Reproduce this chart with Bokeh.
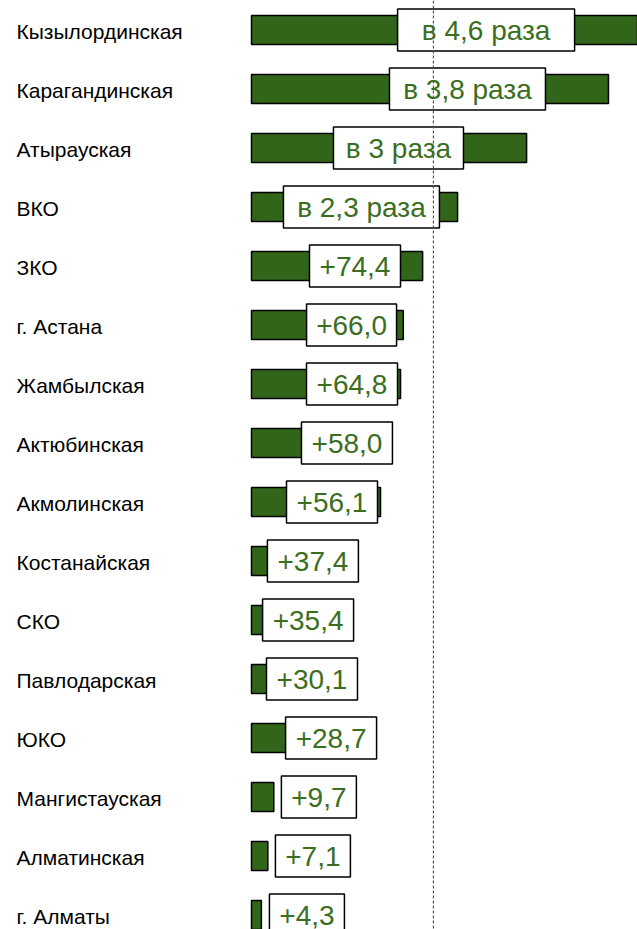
from bokeh.plotting import figure
from bokeh.models import Range1d, Span, ColumnDataSource
from bokeh.core.properties import value
from bokeh.embed import file_html
from bokeh.resources import INLINE

regions = ["Кызылординская", "Карагандинская", "Атырауская", "ВКО", "ЗКО",
           "г. Астана", "Жамбылская", "Актюбинская", "Акмолинская", "Костанайская",
           "СКО", "Павлодарская", "ЮКО", "Мангистауская", "Алматинская", "г. Алматы"]
bar_vals = [172.0, 155.2, 119.6, 89.6, 74.4, 66.0, 64.8, 58.0, 56.1, 37.4,
            35.4, 30.1, 28.7, 9.7, 7.1, 4.3]
labels = ["в 4,6 раза", "в 3,8 раза", "в 3 раза", "в 2,3 раза", "+74,4", "+66,0",
          "+64,8", "+58,0", "+56,1", "+37,4", "+35,4", "+30,1", "+28,7", "+9,7",
          "+7,1", "+4,3"]
reference_line = 79.1

# layout (label box centres in data units, box widths in screen px)
label_x = [102.0, 93.9, 63.9, 47.8, 45.0, 43.5, 43.7, 41.5, 35.0, 26.7,
           24.6, 26.3, 34.6, 29.3, 26.7, 24.1]
box_w = [177, 156, 130, 156, 91, 90, 91, 91, 91, 91, 91, 91, 91, 75, 75, 75]

W, H = 637, 929
PX_PER_UNIT = 2.3
ROW = 59.0
x0_px = 251.0
y0_px = 29.5

x_start = -x0_px / PX_PER_UNIT
x_end = x_start + W / PX_PER_UNIT
y_top = -y0_px / ROW
y_bottom = (H - y0_px) / ROW

idx = list(range(len(regions)))
src = ColumnDataSource(dict(y=idx, right=bar_vals, lx=label_x, lab=labels,
                            bw=box_w, reg=regions, zero=[x_start] * len(idx)))

p = figure(width=W, height=H, x_range=Range1d(x_start, x_end),
           y_range=Range1d(y_bottom, y_top), output_backend="svg",
           toolbar_location=None, min_border=0,
           x_axis_location=None, y_axis_location=None)
p.grid.visible = False
p.outline_line_color = None
p.background_fill_color = "white"
p.border_fill_color = "white"

BAR = "#31661a"
TXT = "#3b6e1e"

p.hbar(y="y", left=0, right="right", height=29 / ROW, source=src,
       fill_color=BAR, line_color="black", line_width=1.5)

p.rect(x="lx", y="y", width="bw", width_units="screen", height=42,
       height_units="screen", source=src, fill_color="white",
       line_color="black", line_width=1.5)

p.text(x="lx", y="y", text="lab", source=src, text_align="center",
       text_baseline="middle", text_font=value("Liberation Sans"),
       text_font_size="28px", text_color=TXT)

p.text(x="zero", y="y", text="reg", source=src, x_offset=16, y_offset=1,
       text_align="left", text_baseline="middle",
       text_font=value("Liberation Sans"), text_font_size="21px",
       text_color="black")

p.add_layout(Span(location=reference_line, dimension="height",
                  line_color="#555555", line_width=1.2, line_dash="3 2"))

open("out.html", "w").write(file_html(p, INLINE))
